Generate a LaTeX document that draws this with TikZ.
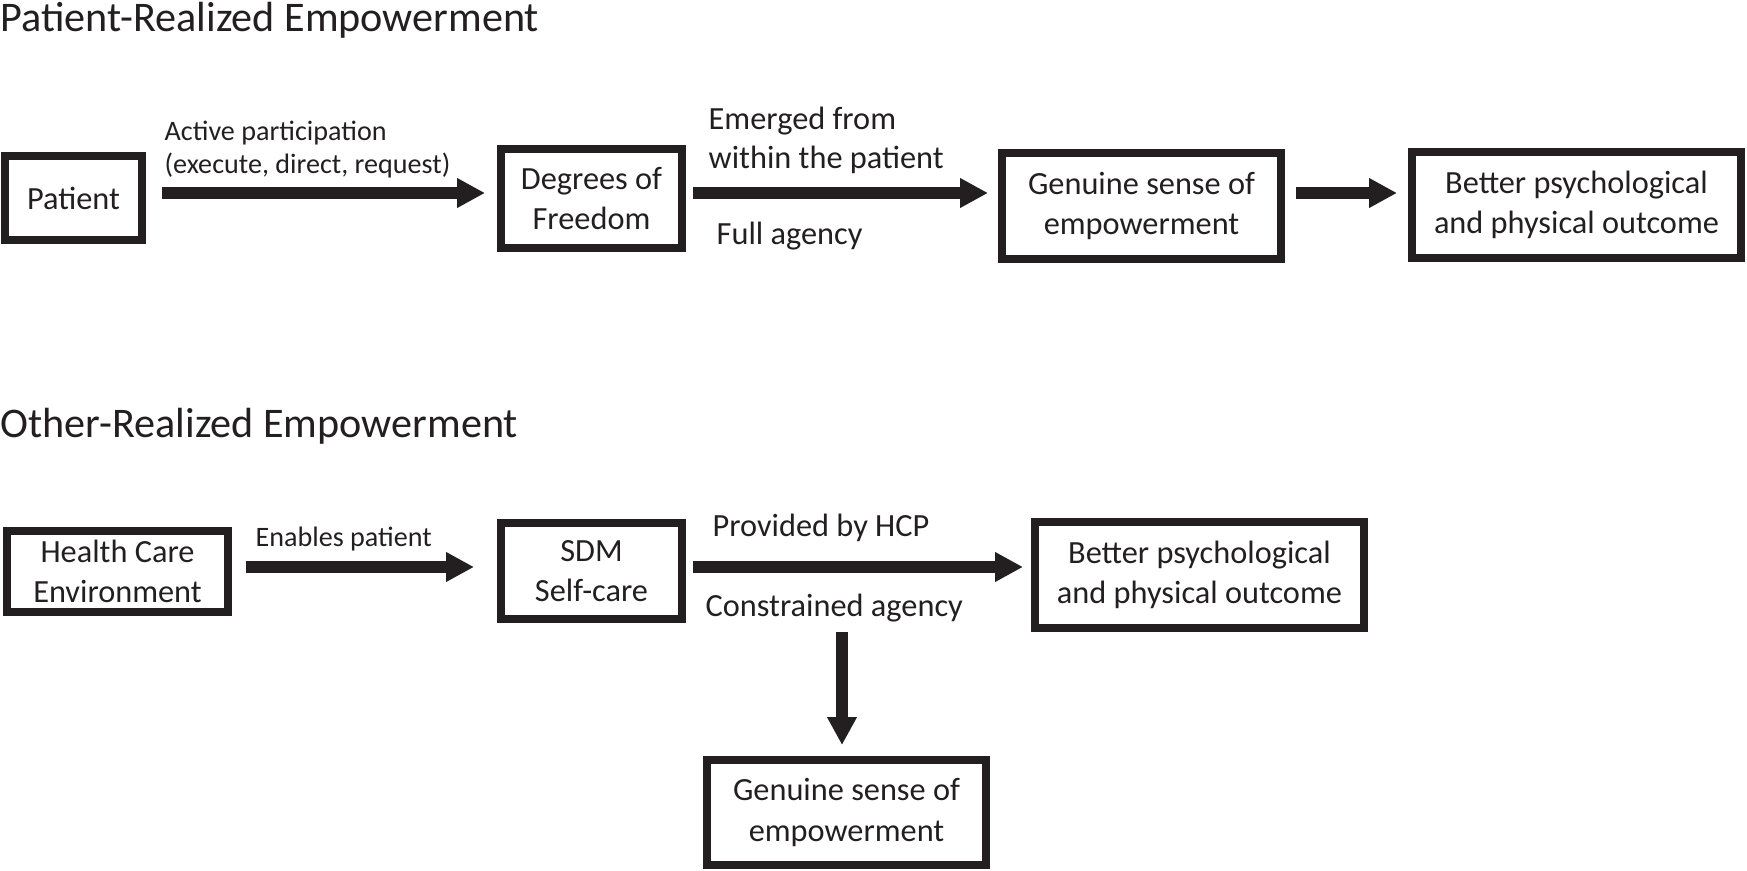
\documentclass[tikz,border=0pt]{standalone}
\usepackage{fontspec}
\setmainfont{Carlito}
\usepackage{xcolor}
\usetikzlibrary{arrows.meta}
\definecolor{inchiostro}{HTML}{231F20}

\begin{document}
\begin{tikzpicture}[x=0.1mm, y=-0.1mm, >={Triangle[length=2.8mm, width=2.8mm]},
  box/.style={draw=inchiostro, line width=0.8mm, inner sep=0pt, align=center,
    text=inchiostro, font=\fontsize{9.2}{11.4}\selectfont},
  flow/.style={->, line width=1.2mm, draw=inchiostro},
  lbl/.style={anchor=base west, inner sep=0pt, text=inchiostro,
    font=\fontsize{9.2}{11.4}\selectfont},
  small/.style={lbl, font=\fontsize{8}{9.6}\selectfont},
  title/.style={lbl, font=\fontsize{12}{14}\selectfont}]

\useasboundingbox (0,0) rectangle (1747,871);

% Titoli
\node[title] (titleA) at (0,31) {Patient-Realized Empowerment};
\node[title] (titleB) at (0,437) {Other-Realized Empowerment};

% Riga A: nodi
\node[box, minimum width=13.7mm, minimum height=8.4mm] (patient) at (73.5,198) {Patient};
\node[box, minimum width=18.1mm, minimum height=9.9mm] (degrees) at (591.5,198.5) {Degrees of\\Freedom};
\node[box, minimum width=27.9mm, minimum height=10.6mm] (genuineA) at (1141.5,206) {Genuine sense of\\empowerment};
\node[box, minimum width=32.9mm, minimum height=10.6mm] (betterA) at (1576.5,205) {Better psychological\\and physical outcome};

% Riga A: frecce
\coordinate (rigaA) at (0,193);
\draw[flow, shorten <=1.6mm, shorten >=1.2mm] (patient.east |- rigaA) -- (degrees.west |- rigaA);
\draw[flow, shorten <=0.7mm, shorten >=1.0mm] (degrees.east |- rigaA) -- (genuineA.west |- rigaA);
\draw[flow, shorten <=1.1mm, shorten >=1.1mm] (genuineA.east |- rigaA) -- (betterA.west |- rigaA);

% Riga A: etichette
\node[small] (activeA) at (164,140) {Active participation};
\node[small] (activeB) at (164,173) {(execute, direct, request)};
\node[lbl] (emergedA) at (708,129) {Emerged from};
\node[lbl] (emergedB) at (708,168) {within the patient};
\node[lbl] (fullag) at (716,244) {Full agency};

% Riga B: nodi
\node[box, minimum width=22.1mm, minimum height=8.1mm] (hce) at (117.5,571.5) {Health Care\\Environment};
\node[box, minimum width=18.1mm, minimum height=9.6mm] (sdm) at (591.5,571) {SDM\\Self-care};
\node[box, minimum width=32.9mm, minimum height=10.6mm] (betterB) at (1199.5,575) {Better psychological\\and physical outcome};
\node[box, minimum width=27.9mm, minimum height=10.5mm] (genuineB) at (846.5,812.5) {Genuine sense of\\empowerment};

% Riga B: frecce
\coordinate (rigaB) at (0,567);
\coordinate (split) at (842,632);
\draw[flow, shorten <=1.4mm, shorten >=2.3mm] (hce.east |- rigaB) -- (sdm.west |- rigaB);
\draw[flow, shorten <=0.7mm, shorten >=0.8mm] (sdm.east |- rigaB) -- (betterB.west |- rigaB);
\draw[flow, shorten >=1.1mm] (split) -- (genuineB.north -| split);

% Riga B: etichette
\node[small] (enables) at (255,546) {Enables patient};
\node[lbl] (provided) at (712,536) {Provided by HCP};
\node[lbl] (constr) at (705,616) {Constrained agency};

\end{tikzpicture}
\end{document}
